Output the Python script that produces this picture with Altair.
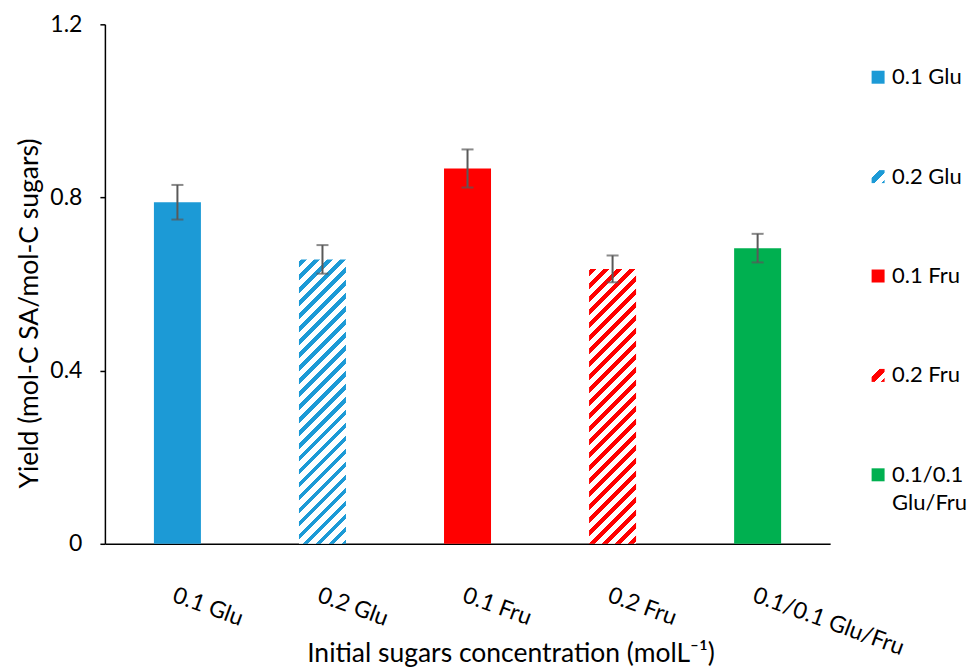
import altair as alt
import pandas as pd

# ---------------- data ----------------
categories = ["0.1 Glu", "0.2 Glu", "0.1 Fru", "0.2 Fru", "0.1/0.1 Glu/Fru"]
yields = [0.789, 0.657, 0.867, 0.635, 0.683]
errors = [0.040, 0.033, 0.044, 0.031, 0.033]
colors = ["#1C9AD6", "#1C9AD6", "#FF0000", "#FF0000", "#00B050"]
hatched = [False, True, False, True, False]
legend_line1 = ["0.1 Glu", "0.2 Glu", "0.1 Fru", "0.2 Fru", "0.1/0.1"]
legend_line2 = ["", "", "", "", "Glu/Fru"]
y_ticks = [0, 0.4, 0.8, 1.2]

# ---------------- style ----------------
FONT = "Lato"
W, H = 726, 520
YMAX = 1.2
PAD_IN, PAD_OUT = 0.676, 0.338
STEP = W / (len(categories) - PAD_IN + 2 * PAD_OUT)
BAR_W = STEP * (1 - PAD_IN)
ERR_COLOR = "#595959"

df = pd.DataFrame({
    "cat": categories,
    "y": yields,
    "err": errors,
    "hatched": hatched,
    "l1": legend_line1,
    "l2": legend_line2,
})
df["lo"] = df["y"] - df["err"]
df["hi"] = df["y"] + df["err"]


def hatch_fill(color, w, h, period=13.0, frac=0.45, phase=2.0):
    """Diagonal '/' stripes as a sharp-stop linear gradient in bbox units."""
    d = w * w + h * h
    tmax = w * (w + h) / d
    stops = [(0.0, "white")]
    k = -1
    while True:
        s0 = k * period + phase
        if s0 > w + h:
            break
        s1 = s0 + frac * period
        t0 = max(0.0, w * s0 / d)
        t1 = min(tmax, w * s1 / d)
        if t1 > 0 and t0 < tmax:
            stops += [(t0, "white"), (t0, color), (t1, color), (t1, "white")]
        k += 1
    clean = []
    last = 0.0
    for o, c in stops:
        o = max(last, round(o, 6))
        clean.append({"offset": o, "color": c})
        last = o
    return {"gradient": "linear", "x1": 0, "y1": 0, "x2": 1, "y2": h / w,
            "stops": clean}


def legend_hatch(color):
    return {"gradient": "linear", "x1": 0, "y1": 0, "x2": 1, "y2": 1,
            "stops": [
                {"offset": 0, "color": "white"},
                {"offset": 0.3, "color": "white"},
                {"offset": 0.3, "color": color},
                {"offset": 0.62, "color": color},
                {"offset": 0.62, "color": "white"},
                {"offset": 0.86, "color": "white"},
                {"offset": 0.86, "color": color},
                {"offset": 1, "color": color},
            ]}


x_enc = alt.X(
    "cat:N", sort=categories,
    scale=alt.Scale(domain=categories, paddingInner=PAD_IN, paddingOuter=PAD_OUT),
    axis=alt.Axis(
        title="Initial sugars concentration (molL\u207b\u00b9)",
        labelAngle=20, labelAlign="left", labelBaseline="top",
        labelPadding=40, ticks=False, domainColor="black", domainWidth=1.5,
        labelFont=FONT, labelFontSize=23, labelColor="black",
        titleFont=FONT, titleFontSize=26.5, titleFontWeight="normal",
        titleColor="black", titleX=406, titleY=118, titleAlign="center",
        titleBaseline="alphabetic", labelOverlap=False,
    ),
)
y_enc = alt.Y(
    "y:Q",
    scale=alt.Scale(domain=[0, YMAX], nice=False),
    axis=alt.Axis(
        title="Yield (mol-C SA/mol-C sugars)", values=y_ticks,
        labelExpr="datum.value == 0 ? '0' : format(datum.value, '.1f')",
        grid=False, tickSize=5, tickColor="black", tickWidth=1.5,
        domainColor="black", domainWidth=1.5, labelPadding=18,
        labelFont=FONT, labelFontSize=23, labelColor="black",
        titleFont=FONT, titleFontSize=26.5, titleFontWeight="normal",
        titleColor="black", titlePadding=6, titleY=289,
    ),
)

base = alt.Chart(df).encode(x=x_enc)

solid = base.transform_filter("!datum.hatched").mark_bar(width=BAR_W).encode(
    y=y_enc,
    color=alt.Color("cat:N", scale=alt.Scale(domain=categories, range=colors),
                    legend=None),
)

layers = [solid]
for cat, val, col, hat in zip(categories, yields, colors, hatched):
    if hat:
        h_px = val / YMAX * H
        layers.append(
            base.transform_filter(alt.datum.cat == cat)
            .mark_bar(width=BAR_W, fill=hatch_fill(col, BAR_W, h_px))
            .encode(y=y_enc)
        )

err_rule = base.mark_rule(color=ERR_COLOR, strokeWidth=2).encode(
    y=alt.Y("lo:Q"), y2="hi:Q")
cap_hi = base.mark_tick(color=ERR_COLOR, thickness=2, size=12).encode(y=alt.Y("hi:Q"))
cap_lo = base.mark_tick(color=ERR_COLOR, thickness=2, size=12).encode(y=alt.Y("lo:Q"))

main = alt.layer(*layers, err_rule, cap_hi, cap_lo).properties(width=W, height=H)

# ---------------- legend panel ----------------
leg_y = alt.Y("cat:N", sort=categories, axis=None,
              scale=alt.Scale(type="point", domain=categories, padding=0.613, align=0.434))
leg_base = alt.Chart(df).encode(y=leg_y)

leg_layers = [
    leg_base.transform_filter("!datum.hatched").mark_square(size=169, opacity=1).encode(
        x=alt.value(18),
        color=alt.Color("cat:N", scale=alt.Scale(domain=categories, range=colors),
                        legend=None)),
]
for cat, col, hat in zip(categories, colors, hatched):
    if hat:
        leg_layers.append(
            leg_base.transform_filter(alt.datum.cat == cat)
            .mark_square(size=169, opacity=1, fill=legend_hatch(col))
            .encode(x=alt.value(18))
        )
leg_layers.append(
    leg_base.mark_text(align="left", baseline="middle", font=FONT, fontSize=22,
                       color="black").encode(x=alt.value(32), text="l1:N"))
leg_layers.append(
    leg_base.mark_text(align="left", baseline="middle", font=FONT, fontSize=22,
                       color="black", dy=28).encode(x=alt.value(32), text="l2:N"))

legend_panel = alt.layer(*leg_layers).properties(width=100, height=H)

chart = alt.hconcat(main, legend_panel, spacing=30, bounds="flush").properties(
    padding={"left": 8, "top": 5, "right": 0, "bottom": 0}
).configure_view(stroke=None).resolve_scale(color="independent")

chart.save("out.html", embed_options={"renderer": "svg", "actions": False})
